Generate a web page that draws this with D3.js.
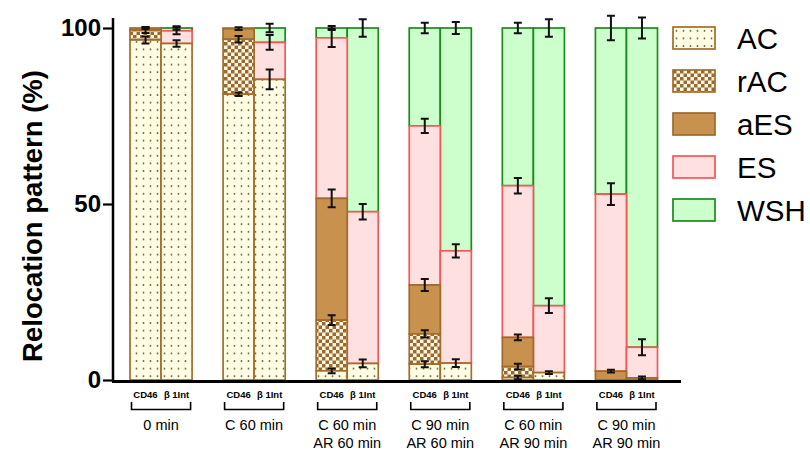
<!DOCTYPE html>
<html>
<head>
  <meta charset="utf-8">
  <title>Relocation pattern</title>
  <style>
    body { margin: 0; background: #fff; }
    text { font-family: "Liberation Sans", Arial, sans-serif; }
  </style>
</head>
<body>
  <script src="https://cdn.jsdelivr.net/npm/d3@7"></script>
  <script>
  'use strict'

  const groups = ['0 min', 'C 60 min', 'C 60 min|AR 60 min', 'C 90 min|AR 60 min', 'C 60 min|AR 90 min', 'C 90 min|AR 90 min']
  const markers = ['CD46', 'β 1Int']
  const keys = ['AC', 'rAC', 'aES', 'ES', 'WSH']

  // segment values, one per bar (group x marker, in order)
  const AC  = [96.6, 95.6, 81.2, 85.4, 2.6, 4.7, 4.5, 4.8, 0.7, 2.1, 0, 0]
  const rAC = [2.8, 0, 15.6, 0, 14.4, 0, 8.6, 0, 3.1, 0, 0, 0]
  const aES = [0.6, 0, 3.0, 0, 34.6, 0, 13.9, 0, 8.3, 0, 2.5, 0.6]
  const ES  = [0, 3.6, 0.2, 10.5, 45.6, 43.1, 45.2, 31.9, 43.1, 19.0, 50.3, 8.7]
  const WSH = [0, 0.8, 0, 4.1, 2.8, 52.2, 27.8, 63.3, 44.8, 78.9, 47.2, 90.7]

  // error (SEM) at the top of each segment
  const errAC  = [1.0, 0.9, 0.5, 2.8, 0.7, 1.1, 0.85, 1.1, 0.5, 0.4, 0, 0]
  const errRAC = [0.8, 0, 0.9, 0, 1.4, 0, 1.0, 0, 0.85, 0, 0, 0]
  const errAES = [0.3, 0, 0.4, 0, 2.5, 0, 1.7, 0, 0.8, 0, 0.4, 0.4]
  const errES  = [0, 1.0, 0, 2.1, 2.6, 2.2, 2.0, 1.9, 2.2, 2.1, 3.1, 2.3]
  const errWSH = [0, 0.5, 0, 1.2, 0.6, 2.5, 1.5, 1.7, 1.5, 2.5, 3.5, 3.0]

  const values = { AC, rAC, aES, ES, WSH }
  const errors = { AC: errAC, rAC: errRAC, aES: errAES, ES: errES, WSH: errWSH }

  const w = 810
  const h = 454

  const rows = []
  groups.forEach((g, gi) => markers.forEach((m, mi) => {
    const i = gi * 2 + mi
    const row = { group: g, marker: m, i }
    keys.forEach(k => { row[k] = values[k][i] })
    rows.push(row)
  }))

  const stacked = d3.stack().keys(keys)(rows)

  const svg = d3.select('body').append('svg')
    .attr('width', w)
    .attr('height', h)

  const defs = svg.append('defs')
  // dotted fill for AC
  const pAC = defs.append('pattern').attr('id', 'pat-AC')
    .attr('patternUnits', 'userSpaceOnUse').attr('width', 7).attr('height', 7.6)
  pAC.append('rect').attr('width', 7).attr('height', 7.6).attr('fill', '#fffde3')
  pAC.append('circle').attr('cx', 3.5).attr('cy', 3.8).attr('r', 0.95).attr('fill', '#6e5c3a')
  // checker fill for rAC
  const pR = defs.append('pattern').attr('id', 'pat-rAC')
    .attr('patternUnits', 'userSpaceOnUse').attr('width', 7).attr('height', 7)
  pR.append('rect').attr('width', 7).attr('height', 7).attr('fill', '#fdf6e6')
  pR.append('rect').attr('width', 3.5).attr('height', 3.5).attr('fill', '#9a6a2c')
  pR.append('rect').attr('x', 3.5).attr('y', 3.5).attr('width', 3.5).attr('height', 3.5).attr('fill', '#9a6a2c')

  const fills = { AC: 'url(#pat-AC)', rAC: 'url(#pat-rAC)', aES: '#c8924e', ES: '#ffe0e1', WSH: '#ccffcc' }
  const strokes = { AC: '#a26d2b', rAC: '#a26d2b', aES: '#9c6b2c', ES: '#f25858', WSH: '#1d8a1d' }

  const x0 = d3.scaleBand().domain(groups).range([130, 657.5]).paddingInner(0.333).paddingOuter(0)
  const x1 = d3.scaleBand().domain(markers).range([0, x0.bandwidth()])
  const y = d3.scaleLinear().domain([0, 100]).range([380, 28])

  const barX = d => x0(d.data.group) + x1(d.data.marker)

  // draw upper segments first so lower borders stay on top
  const layers = svg.append('g').selectAll('g')
    .data(stacked.slice().reverse())
    .join('g')
    .attr('fill', s => fills[s.key])
    .attr('stroke', s => strokes[s.key])
    .attr('stroke-width', 1.7)

  layers.selectAll('rect')
    .data(s => s.filter(d => d[1] - d[0] > 0))
    .join('rect')
    .attr('x', barX)
    .attr('y', d => y(d[1]))
    .attr('width', x1.bandwidth())
    .attr('height', d => y(d[0]) - y(d[1]))

  // error bars
  const errData = []
  stacked.forEach(s => s.forEach(d => {
    const e = errors[s.key][d.data.i]
    if (e > 0 && d[1] - d[0] > 0) errData.push({ x: barX(d) + x1.bandwidth() / 2, v: d[1], e })
  }))
  const eb = svg.append('g').attr('stroke', '#111').attr('stroke-width', 2).attr('fill', 'none')
  eb.selectAll('path')
    .data(errData)
    .join('path')
    .attr('d', d => {
      const t = y(d.v + d.e), b = y(d.v - d.e)
      return `M${d.x - 4},${t}H${d.x + 4}M${d.x},${t}V${b}M${d.x - 4},${b}H${d.x + 4}`
    })

  // y axis
  const yAxis = svg.append('g')
    .attr('transform', 'translate(113,0)')
    .call(d3.axisLeft(y).tickValues([0, 50, 100]).tickSize(10).tickPadding(2))
  yAxis.select('.domain').remove()
  yAxis.selectAll('.tick line').attr('stroke', '#000').attr('stroke-width', 2.2)
  yAxis.selectAll('.tick text')
    .attr('font-family', '"Liberation Sans", Arial, sans-serif')
    .attr('font-size', 24).attr('font-weight', 'bold').attr('fill', '#000')
  svg.append('line')
    .attr('x1', 113).attr('x2', 113).attr('y1', 18).attr('y2', 382)
    .attr('stroke', '#000').attr('stroke-width', 2.5)

  // x axis baseline
  svg.append('line')
    .attr('x1', 112).attr('x2', 681).attr('y1', 381.5).attr('y2', 381.5)
    .attr('stroke', '#000').attr('stroke-width', 3.2)

  // y title
  svg.append('text')
    .attr('transform', 'translate(42,216) rotate(-90)')
    .attr('text-anchor', 'middle')
    .attr('font-size', 27.5).attr('font-weight', 'bold')
    .text('Relocation pattern (%)')

  // marker labels, brackets, group labels
  const gl = svg.append('g').selectAll('g')
    .data(groups)
    .join('g')
    .attr('transform', g => `translate(${x0(g)},0)`)

  gl.selectAll('text.m')
    .data(markers)
    .join('text')
    .attr('class', 'm')
    .attr('x', m => x1(m) + x1.bandwidth() / 2)
    .attr('y', 398)
    .attr('text-anchor', 'middle')
    .attr('font-size', 9.5).attr('font-weight', 'bold')
    .text(m => m)

  gl.append('path')
    .attr('d', `M1.5,402V409.5H${x0.bandwidth() - 1.5}V402`)
    .attr('fill', 'none').attr('stroke', '#000').attr('stroke-width', 1.6)

  gl.selectAll('text.g')
    .data(g => g.split('|'))
    .join('text')
    .attr('class', 'g')
    .attr('x', x0.bandwidth() / 2)
    .attr('y', (d, i) => 430 + i * 18)
    .attr('text-anchor', 'middle')
    .attr('font-size', 14.5)
    .text(d => d)

  // legend
  const lg = svg.append('g').selectAll('g')
    .data(keys)
    .join('g')
    .attr('transform', (k, i) => `translate(673,${27 + i * 43})`)
  lg.append('rect')
    .attr('width', 42).attr('height', 22)
    .attr('fill', k => fills[k]).attr('stroke', k => strokes[k]).attr('stroke-width', 1.7)
  lg.append('text')
    .attr('x', 64).attr('y', 21.5)
    .attr('font-size', 29.5)
    .text(k => k)
  </script>
</body>
</html>
